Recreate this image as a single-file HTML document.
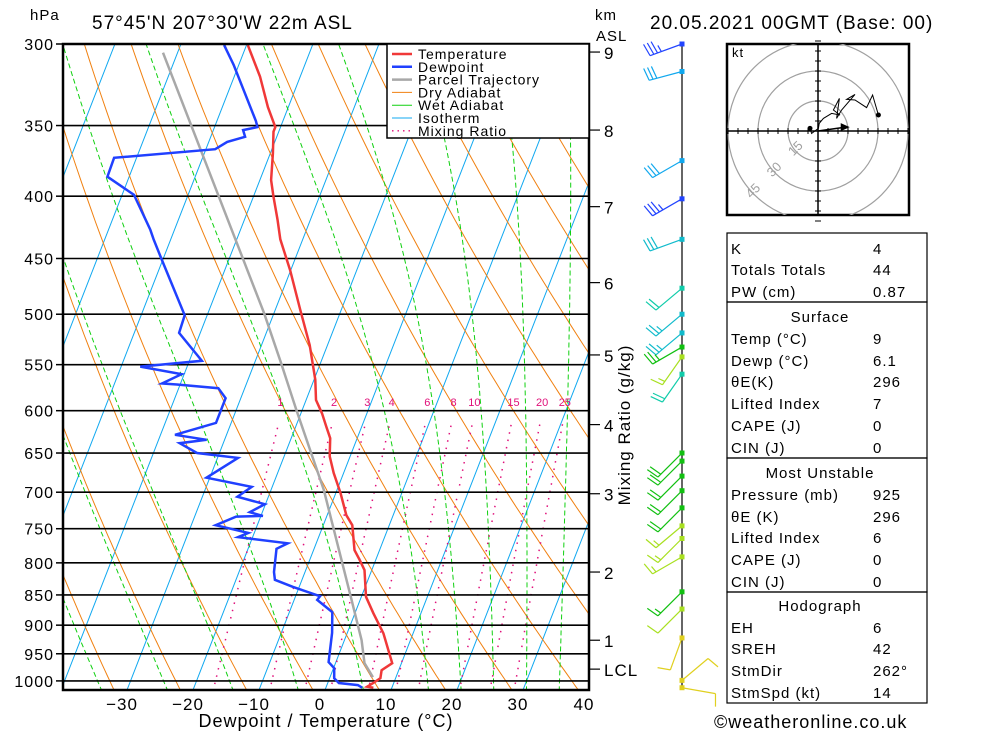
<!DOCTYPE html>
<html><head><meta charset="utf-8"><style>
html,body{margin:0;padding:0;background:#fff;}
svg{display:block;font-family:"Liberation Sans",sans-serif;}
.t{fill:#000;letter-spacing:1px;}
</style></head><body>
<svg id="chart" width="1000" height="733" viewBox="0 0 1000 733">
<defs><clipPath id="plotclip"><rect x="63" y="44" width="526" height="646"/></clipPath>
<clipPath id="hodoclip"><rect x="727" y="44" width="182" height="171"/></clipPath></defs>
<g id="grid" clip-path="url(#plotclip)"></g>
<g id="profiles" clip-path="url(#plotclip)"></g>
<g id="axes"></g>
<g id="winds"></g>
<g id="hodo"></g>
<g id="tables"></g>
</svg>
<script>
// ---- data ----
const pressureLevels = [300,350,400,450,500,550,600,650,700,750,800,850,900,950,1000];
const tempTicks = [-30,-20,-10,0,10,20,30,40];
const kmLabels = ['9','8','7','6','5','4','3','2','1','LCL'];
const kmPressures = [304.6,353,408,471,540,616,702,814,926,978];
const mixRatios = [1,2,3,4,6,8,10,15,20,25];
const tempP = [300.6,319,338,351,354,369,388,400,418,434,460,496,530,566,588,603,619,632,654,675,701,731,745,781,796,811,853,880,914,967,980,995,1004,1011,1013];
const tempT = [-49.8,-46.1,-43.1,-40.8,-40.8,-39.6,-38.3,-37.0,-35.0,-33.4,-30.1,-26.2,-22.7,-19.8,-18.5,-16.8,-15.3,-14.1,-13.1,-11.5,-9.3,-7.1,-5.6,-3.8,-2.4,-1.1,0.7,2.8,5.5,8.6,7.4,7.7,6.9,6.2,7.2];
const dewP = [300.6,312,347,351,353,357.5,361,366,372,385.5,399,426,434,450,501,518,546,552,560,570,571,575,586,614,628,634,638,650,656,681,693,706,716,727,732,733,745,756,762,771,779,814,826,837,852,858,878,913,965,976,995,1004,1008,1013];
const dewT = [-53.4,-50.8,-44.1,-43.5,-45.5,-44.8,-47.2,-48.6,-63.4,-63.3,-58.2,-53.7,-52.6,-50.3,-43.4,-43.2,-38.1,-47.1,-40.4,-42.8,-40.5,-34.0,-32.3,-32.3,-37.8,-32.7,-36.6,-33.4,-26.9,-30.5,-23.1,-24.7,-20.1,-21.9,-19.7,-23.7,-26.3,-20.9,-22.2,-14.3,-15.7,-14.7,-14.1,-11.0,-6.3,-6.5,-3.5,-2.3,-1.1,0.1,0.7,1.7,4.7,5.5];
const parcelP = [305,434,499,549,599,697,853,926,967,993];
const parcelT = [-62.2,-40.2,-31.5,-25.9,-20.9,-12.0,-1.6,2.6,4.4,6.5];
const windP = [300,316,374,402,434,476,500,518,532,542,560,650,660,679,698,721,746,764,791,845,873,922,999,1013];
const windDir = [250,255,240,240,250,230,230,230,240,215,215,225,225,225,225,225,230,225,240,225,225,200,50,100];
const windSpd = [35,30,30,35,30,20,25,25,25,15,20,20,20,20,20,20,15,15,15,15,10,10,10,10];
const barbColor = ['#2244ff','#11a8ee','#11a8ee','#2244ff','#11bbcc','#11ccaa','#11bbcc','#11bbcc','#11c011','#a8e020','#11ccaa','#11c011','#11c011','#11c011','#11c011','#11c011','#a8e020','#a8e020','#a8e020','#11c011','#a8e020','#e0d020','#e0d020','#e0d020'];
const hodoU = [-4,-3.2,0.2,0.6,2.7,6.8,11,7.7,10.7,9.3,11.8,18.5,14.3,18.5,24.3,27.3,30.2];
const hodoV = [1.3,-1.2,1.3,3.8,6.3,8.8,8,10.5,16.3,6.3,10.5,18.3,15.8,15.5,11.7,18,8];
const stormDir = 262, stormSpd = 14;
const hodoRings = [15,30,45];

// ---- axis functions ----
const NS='http://www.w3.org/2000/svg';
function Y(p){return 44+529*Math.log(p/300);}
function X(T,p){return 325+6.6*T+0.39*(690-Y(p));}
function mk(parent,tag,attrs){const e=document.createElementNS(NS,tag);for(const k in attrs)e.setAttribute(k,attrs[k]);parent.appendChild(e);return e;}
function poly(parent,pts,stroke,w,dash){const e=mk(parent,'polyline',{points:pts.map(q=>q[0].toFixed(1)+','+q[1].toFixed(1)).join(' '),fill:'none',stroke:stroke,'stroke-width':w});if(dash)e.setAttribute('stroke-dasharray',dash);return e;}
function es(Tc){return 6.112*Math.exp(17.67*Tc/(Tc+243.5));}

const grid=document.getElementById('grid');
for(let T=-130;T<=40;T+=10){
  const e=mk(grid,'line',{x1:X(T,1017),y1:Y(1017),x2:X(T,290),y2:Y(290),stroke:'#10a8f0','stroke-width':1});
  
  
}
for(let th=230;th<=500;th+=10){
  const pts=[];for(let p=1020;p>=290;p-=10){const T=th*Math.pow(p/1000,0.2857)-273.15;pts.push([X(T,p),Y(p)]);}
  const e=poly(grid,pts,'#f08010',1);
  
  
}
function moistStep(T,p,dp){const Tc=T-273.15;const e=es(Tc);const rs=0.622*e/(p-e);
  const num=287*T+2.5e6*rs;const den=1004+2.5e6*2.5e6*rs*0.622/(287*T*T);return T+dp*num/(p*den);}
[-35,-25,-15,-5,5,15,20,25,30,35].forEach(tw=>{
  let T=tw+273.15;const up=[];let p=1000;
  let Td=T;for(let q=1000;q<1020;q+=5){Td=moistStep(Td,q,5);}
  up.push([X(Td-273.15,1020),Y(1020)]);
  up.push([X(T-273.15,1000),Y(1000)]);
  while(p>290){T=moistStep(T,p,-5);p-=5;up.push([X(T-273.15,p),Y(p)]);}
  const e=poly(grid,up,'#10d010',1,'5,3');
  
  
});
mixRatios.forEach(w=>{
  const pts=[];for(let p=1020;p>=615;p-=5){const e=w*p/(622+w);const L=Math.log(e/6.112);const Td=243.5*L/(17.67-L);pts.push([X(Td,p),Y(p)]);}
  const e=poly(grid,pts,'#e0107a',1.5,'1.5,6');
  
  
});
pressureLevels.forEach(p=>{
  const e=mk(grid,'line',{x1:63,y1:Y(p),x2:589,y2:Y(p),stroke:'#000','stroke-width':1.6});
  
  
});

const prof=document.getElementById('profiles');
let e;
e=poly(prof,parcelP.map((p,i)=>[X(parcelT[i],p),Y(p)]),'#a8a8a8',2.5);


e=poly(prof,dewP.map((p,i)=>[X(dewT[i],p),Y(p)]),'#2040ff',2.5);


e=poly(prof,tempP.map((p,i)=>[X(tempT[i],p),Y(p)]),'#f03838',2.5);



const axes=document.getElementById('axes');
mixRatios.forEach(w=>{
  const p=620;const ee=w*p/(622+w);const L=Math.log(ee/6.112);const Td=243.5*L/(17.67-L);
  const t=mk(axes,'text',{x:X(Td,p)+3,y:406,'font-size':11,fill:'#e0107a','text-anchor':'middle'});t.textContent=w;
  
  
});
e=mk(axes,'rect',{x:63,y:44,width:526,height:646,fill:'none',stroke:'#000','stroke-width':2.5});


pressureLevels.forEach(p=>{
  mk(axes,'line',{x1:56,y1:Y(p),x2:63,y2:Y(p),stroke:'#000','stroke-width':1.5});
  const t=mk(axes,'text',{x:54,y:Y(p)+6,'font-size':16,'text-anchor':'end',class:'t'});t.textContent=p;
  
  
});
tempTicks.forEach(T=>{
  const t=mk(axes,'text',{x:320+6.6*T,y:710,'font-size':17,'text-anchor':'middle',class:'t'});t.textContent=(T<0?'\u2212'+(-T):T);
  
  
});
kmLabels.forEach((k,i)=>{
  const y=Y(kmPressures[i]);
  mk(axes,'line',{x1:589,y1:y,x2:600,y2:y,stroke:'#000','stroke-width':1.2});
  const t=mk(axes,'text',{x:604,y:y+7,'font-size':17,class:'t'});t.textContent=k;
  
  
});

const S=document.getElementById('chart');
function txt(x,y,s,str,anchor,extra){const t=document.createElementNS(NS,'text');t.setAttribute('x',x);t.setAttribute('y',y);t.setAttribute('font-size',s);t.setAttribute('class','t');if(anchor)t.setAttribute('text-anchor',anchor);if(extra)for(const k in extra)t.setAttribute(k,extra[k]);t.textContent=str;S.appendChild(t);return t;}
let tt;
tt=txt(30,20,15,'hPa');


tt=txt(92,29,19,"57°45'N  207°30'W  22m  ASL");


tt=txt(595,20,15,'km');


tt=txt(596,41,15,'ASL');


tt=txt(650,29,19,'20.05.2021  00GMT  (Base: 00)');


tt=txt(326,727,18,'Dewpoint / Temperature (°C)','middle');


tt=txt(0,0,17,'Mixing Ratio (g/kg)','middle',{transform:'translate(630,425) rotate(-90)'});


tt=txt(714,728,18,'©weatheronline.co.uk','start');



const lg=document.createElementNS(NS,'g');S.appendChild(lg);


mk(lg,'rect',{x:387,y:44,width:202,height:94,fill:'#fff',stroke:'#000','stroke-width':1.5});
const legItems=[['Temperature','#f03838',2.5,''],['Dewpoint','#2040ff',2.5,''],['Parcel Trajectory','#a8a8a8',2.5,''],['Dry Adiabat','#f08010',1,''],['Wet Adiabat','#10d010',1,''],['Isotherm','#10a8f0',1,''],['Mixing Ratio','#e0107a',1.3,'1.5,4']];
legItems.forEach((it,i)=>{const y=54+i*12.8;
  const l=mk(lg,'line',{x1:392,y1:y,x2:412,y2:y,stroke:it[1],'stroke-width':it[2]});if(it[3])l.setAttribute('stroke-dasharray',it[3]);
  const t=mk(lg,'text',{x:418,y:y+5,'font-size':14,class:'t'});t.textContent=it[0];
  
  
});

const W=document.getElementById('winds');
mk(W,'line',{x1:682,y1:44,x2:682,y2:690,stroke:'#000','stroke-width':1.2});
windP.forEach((p,i)=>{
  const y=Y(p),x=682,d=windDir[i]*Math.PI/180,c=barbColor[i];
  const vx=Math.sin(d),vy=-Math.cos(d);const L=34;
  const ex=x+vx*L,ey=y+vy*L;
  const g=mk(W,'g',{});
  
  
  mk(g,'line',{x1:x,y1:y,x2:ex,y2:ey,stroke:c,'stroke-width':1.2});
  const a=80*Math.PI/180;const fx=vx*Math.cos(a)-vy*Math.sin(a),fy=vx*Math.sin(a)+vy*Math.cos(a);
  let s=windSpd[i],k=0;
  while(s>=10){const bx=ex-vx*k*4,by=ey-vy*k*4;mk(g,'line',{x1:bx,y1:by,x2:bx+fx*13,y2:by+fy*13,stroke:c,'stroke-width':1.2});s-=10;k++;}
  if(s>=5){const off=k?k*4:4;const bx=ex-vx*off,by=ey-vy*off;mk(g,'line',{x1:bx,y1:by,x2:bx+fx*7,y2:by+fy*7,stroke:c,'stroke-width':1.2});}
  mk(g,'rect',{x:x-2.5,y:y-2.5,width:5,height:5,fill:c});
});

const H=document.getElementById('hodo');
const cx=818,cy=131,sc=2;
mk(H,'rect',{x:727,y:44,width:182,height:171,fill:'#fff',stroke:'#000','stroke-width':2.5});
const hc=mk(H,'g',{'clip-path':'url(#hodoclip)'});
hodoRings.forEach(r=>{mk(hc,'circle',{cx:cx,cy:cy,r:r*sc,fill:'none',stroke:'#a0a0a0','stroke-width':1.2});
  const t=mk(H,'text',{x:cx-r*sc*0.707-6,y:cy+r*sc*0.707+2,'font-size':13,fill:'#a0a0a0',transform:'rotate(-45 '+(cx-r*sc*0.707-2)+' '+(cy+r*sc*0.707)+')'});t.textContent=r;
  
  });
mk(H,'line',{x1:728,y1:cy,x2:908,y2:cy,stroke:'#000','stroke-width':1.5});
mk(H,'line',{x1:cx,y1:45,x2:cx,y2:214,stroke:'#000','stroke-width':1.5});
for(let v=-45;v<=45;v+=5){if(!v)continue;mk(H,'line',{x1:cx+v*sc,y1:cy-3,x2:cx+v*sc,y2:cy+3,stroke:'#000'});mk(H,'line',{x1:cx-3,y1:cy+v*sc,x2:cx+3,y2:cy+v*sc,stroke:'#000'});}
const kt=mk(H,'text',{x:732,y:57,'font-size':13,class:'t'});kt.textContent='kt';


const hp=poly(H,hodoU.map((u,i)=>[cx+u*sc,cy-hodoV[i]*sc]),'#000',1);


mk(H,'circle',{cx:cx+hodoU[0]*sc,cy:cy-hodoV[0]*sc,r:2.5,fill:'#000'});
const lastI=hodoU.length-1;
mk(H,'circle',{cx:cx+hodoU[lastI]*sc,cy:cy-hodoV[lastI]*sc,r:2.5,fill:'#000'});
const sd=(stormDir+180)*Math.PI/180;const su=stormSpd*Math.sin(sd),sv=stormSpd*Math.cos(sd);
const ax=cx+su*sc,ay=cy-sv*sc;
const sm=mk(H,'line',{x1:cx,y1:cy,x2:ax,y2:ay,stroke:'#000','stroke-width':1.5});


mk(H,'polygon',{points:(ax+4)+','+ay+' '+(ax-5)+','+(ay-4)+' '+(ax-5)+','+(ay+4),fill:'#000'});

const TB=document.getElementById('tables');
const boxes=[[233,302],[302,458],[458,592],[592,703]];
boxes.forEach(b=>{const r=mk(TB,'rect',{x:727,y:b[0],width:200,height:b[1]-b[0],fill:'none',stroke:'#000','stroke-width':1.2});
  
  });
const rows=[['K','4'],['Totals Totals','44'],['PW (cm)','0.87'],['#Surface'],['Temp (°C)','9'],['Dewp (°C)','6.1'],['θE(K)','296'],['Lifted Index','7'],['CAPE (J)','0'],['CIN (J)','0'],['#Most Unstable'],['Pressure (mb)','925'],['θE (K)','296'],['Lifted Index','6'],['CAPE (J)','0'],['CIN (J)','0'],['#Hodograph'],['EH','6'],['SREH','42'],['StmDir','262°'],['StmSpd (kt)','14']];
const rowY=[248,269,291,316,338,360,381,403,425,447,472,494,516,537,559,581,605,627,648,670,692];
rows.forEach((r,i)=>{const y=rowY[i]+6;
  if(r[0][0]==='#'){const t=mk(TB,'text',{x:820,y:y,'font-size':15,'text-anchor':'middle',class:'t'});t.textContent=r[0].slice(1);
    
    return;}
  const t=mk(TB,'text',{x:731,y:y,'font-size':15,class:'t'});t.textContent=r[0];
  
  
  const v=mk(TB,'text',{x:873,y:y,'font-size':15,class:'t'});v.textContent=r[1];
  
  
});
</script>
</body></html>
